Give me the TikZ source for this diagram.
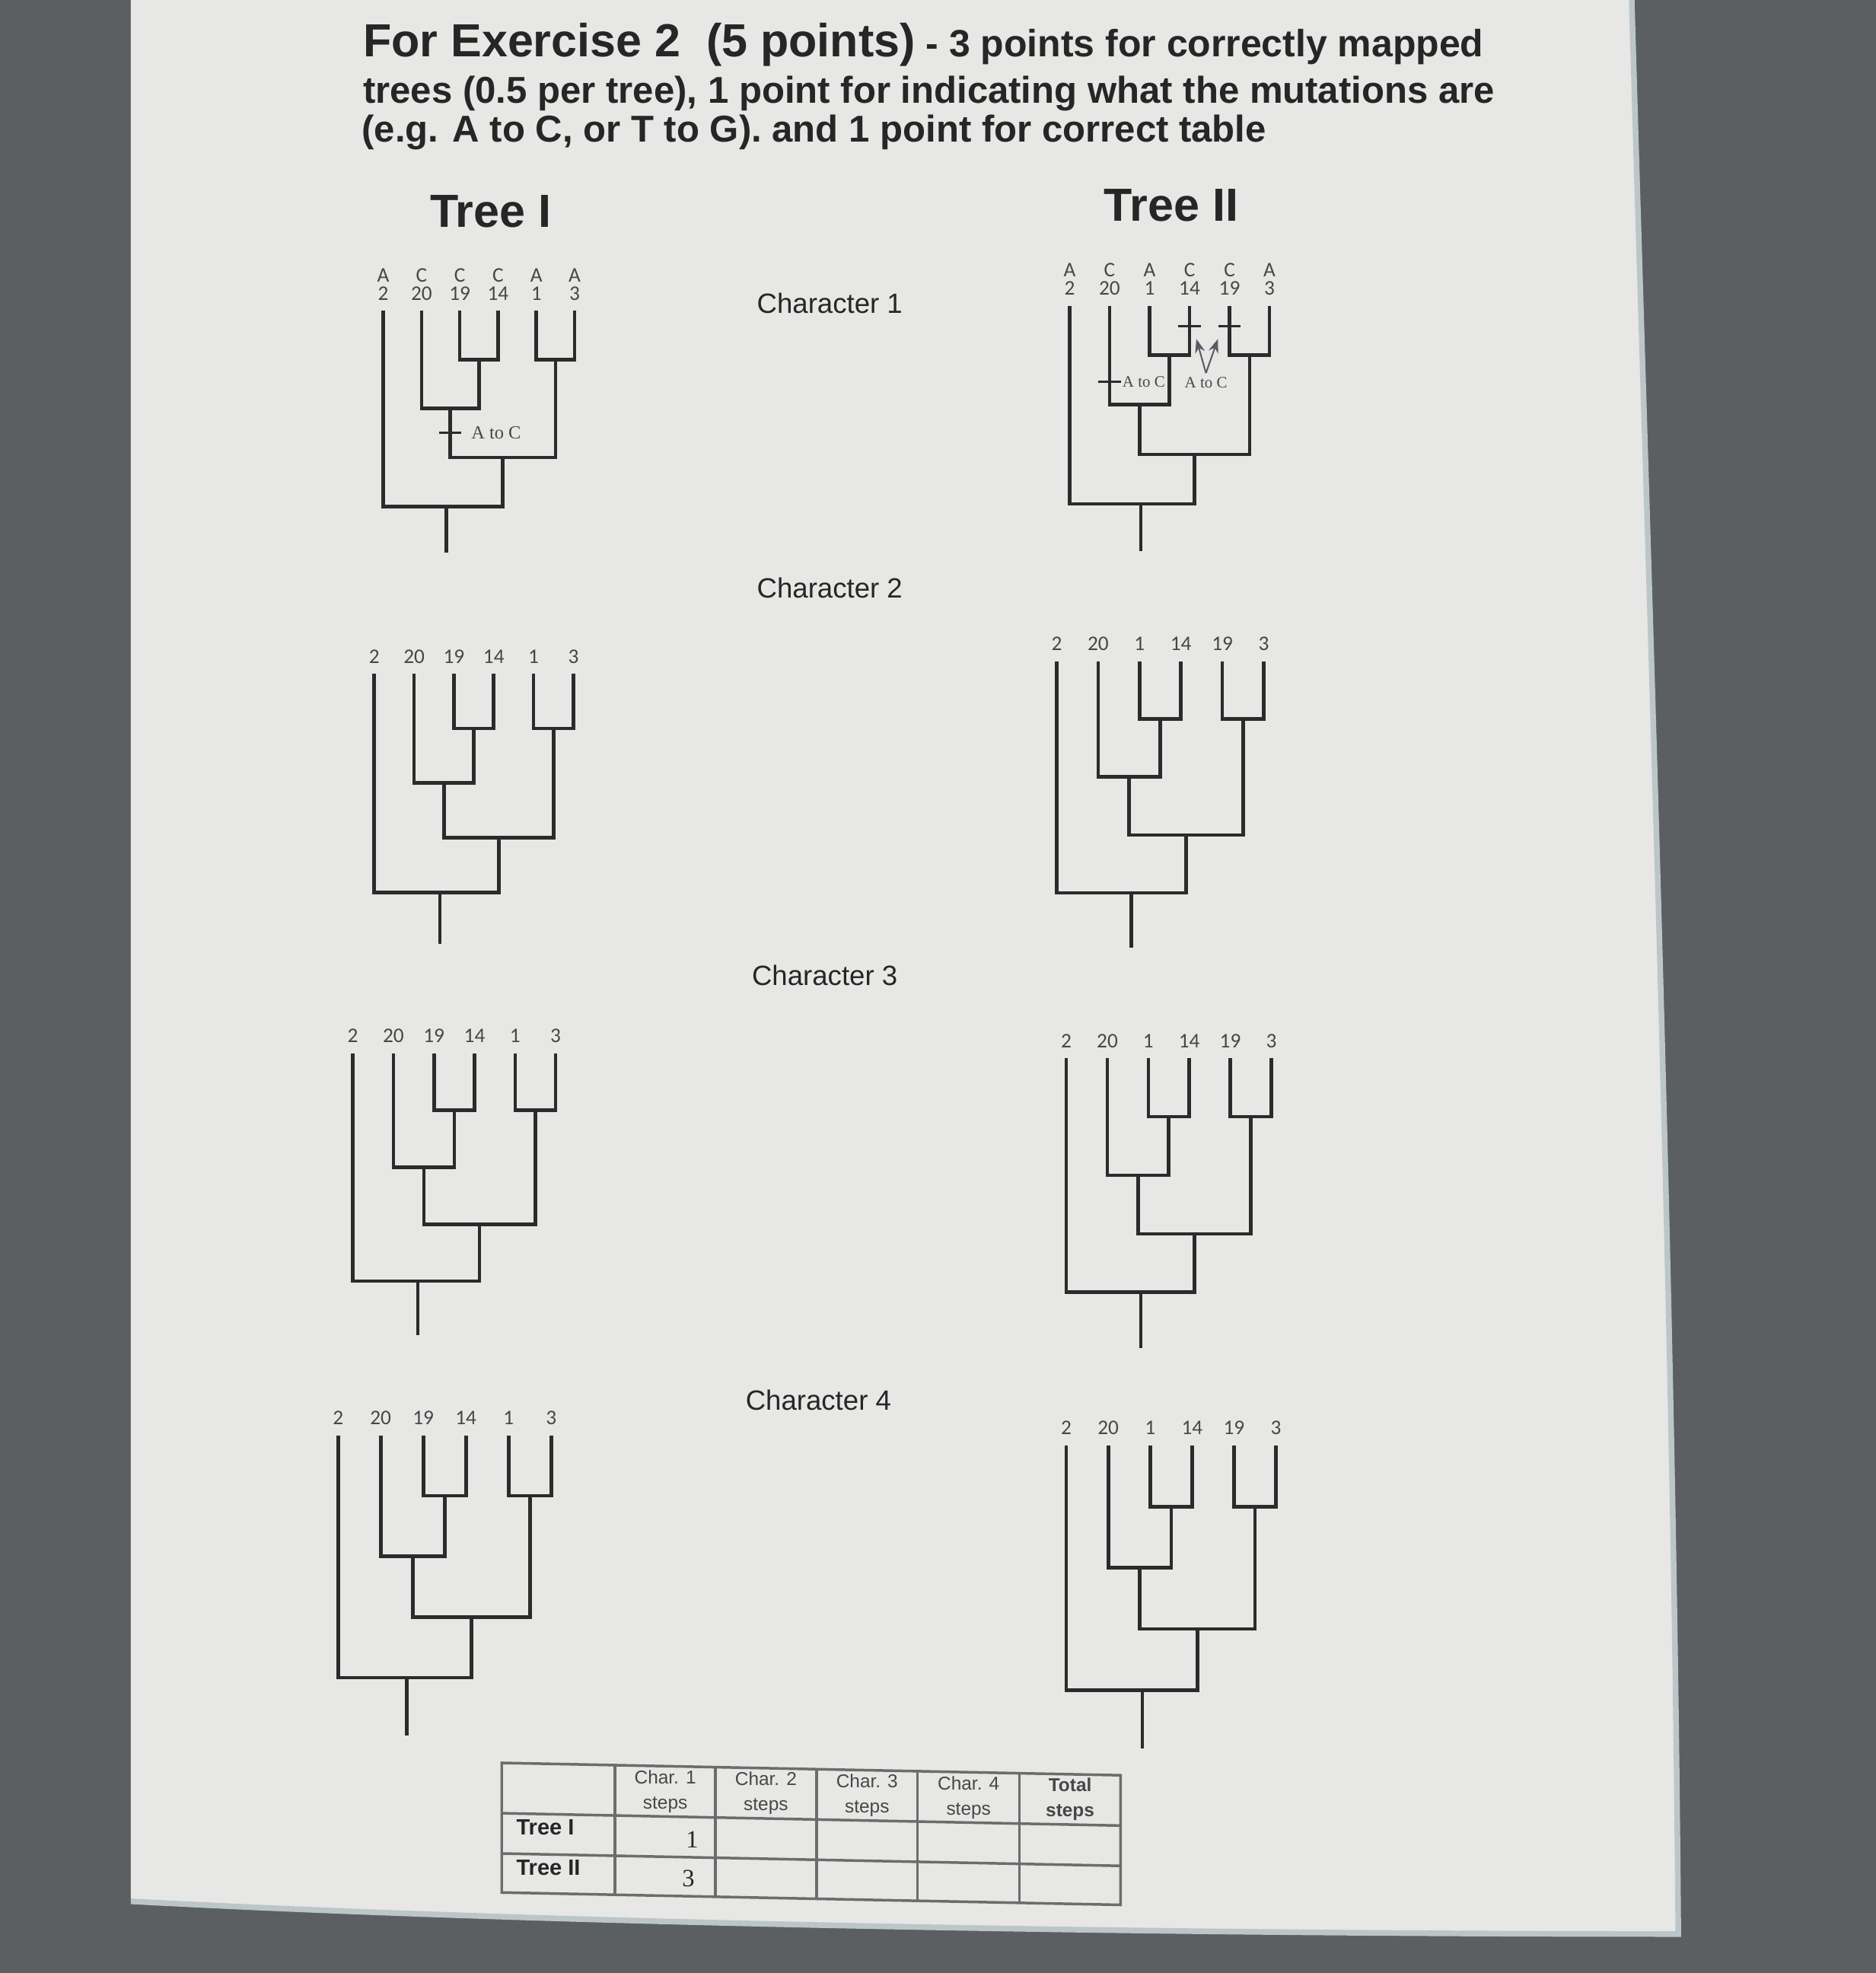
\documentclass[tikz,border=0pt]{standalone}
\usepackage{fontspec}
\setmainfont{Liberation Sans}
\newfontfamily\carlito{Carlito}
\newfontfamily\timesr{Liberation Serif}
\usetikzlibrary{arrows.meta}
\begin{document}
\begin{tikzpicture}[
    x=.1mm,y=-.1mm,
    branch/.style={draw=branchink,line width=.8pt},
    mutick/.style={draw=branchink,line width=.55pt},
    pointer/.style={draw=pointer,line width=.35pt,-{Stealth[length=1.1mm,width=.8mm]}},
    leaflab/.style={font=\carlito\fontsize{4.7}{5}\selectfont,text=labink,inner sep=0pt,anchor=base},
    mutlab/.style={font=\timesr\fontsize{4.2}{5}\selectfont,text=labink,inner sep=.3pt},
    charlab/.style={font=\fontsize{6.3}{7}\selectfont,text=ink,anchor=west,inner sep=0pt},
    treehead/.style={font=\bfseries\fontsize{10.5}{12}\selectfont,text=ink,inner sep=0pt},
    headline/.style={anchor=base west,inner sep=0pt,text=ink,font=\bfseries\fontsize{8.45}{10}\selectfont},
    grid/.style={draw=gridink,line width=.6pt},
    cell/.style={font=\fontsize{4.2}{5.7}\selectfont,text=labink,align=center,inner sep=0pt},
    rowlab/.style={font=\bfseries\fontsize{5}{6}\selectfont,text=ink,anchor=west,inner sep=0pt},
    tally/.style={font=\timesr\fontsize{5.6}{6}\selectfont,text=ink,anchor=east,inner sep=0pt},
    pics/clade/.style 2 args={code={
      \foreach \lab [count=\i from 0] in {#1} {
        \coordinate (-l\i) at (\i,0);
        \node[leaflab,yshift=.85mm] (-n\i) at (\i,0) {\lab};
      }
      \coordinate (-a) at (2.5,1);
      \coordinate (-b) at (4.5,1);
      \coordinate (-c) at (1.75,2);
      \coordinate (-d) at (3.125,3);
      \coordinate (-r) at (#2,4);
      \coordinate (-s) at (#2,4.95);
      \draw[branch] (-l2) |- (-a) -| (-l3);
      \draw[branch] (-l4) |- (-b) -| (-l5);
      \draw[branch] (-l1) |- (-c) -| (-a);
      \draw[branch] (-c) |- (-d) -| (-b);
      \draw[branch] (-l0) |- (-r) -| (-d);
      \draw[branch] (-r) -- (-s);
    }}
  ]
  \definecolor{desk}{HTML}{5C5F62}
  \definecolor{paper}{HTML}{E7E7E5}
  \definecolor{rimc}{HTML}{BCC6C9}
  \definecolor{ink}{HTML}{262626}
  \definecolor{branchink}{HTML}{2B2B2B}
  \definecolor{labink}{HTML}{474747}
  \definecolor{gridink}{HTML}{6C6C6C}
  \definecolor{pointer}{HTML}{5E5868}
  \useasboundingbox (0,0) rectangle (1491,1568);
  % photo: desk and sheet
  \fill[desk] (0,0) rectangle (1491,1568);
  \fill[paper] (104,0) -- (1297,0) .. controls (1312,520) and (1330,1020) .. (1334,1537)
    .. controls (900,1537) and (420,1528) .. (104,1511) -- cycle;
  \draw[rimc,line width=.45mm] (1297,0) .. controls (1312,520) and (1330,1020) .. (1334,1537)
    .. controls (900,1537) and (420,1528) .. (104,1511);

  % heading
  \node[headline,font=\bfseries\fontsize{8.6}{10}\selectfont] (head1) at (288,45)
    {{\fontsize{10.5}{12}\selectfont For Exercise 2\ \ (5 points)} - 3 points for correctly mapped};
  \node[headline] (head2) at (288,82)
    {trees (0.5 per tree), 1 point for indicating what the mutations are};
  \node[headline] (head3) at (287,113)
    {(e.g. A to C, or T to G). and 1 point for correct table};
  \node[treehead] (headI) at (390,168) {Tree I};
  \node[treehead] (headII) at (931,163) {Tree II};

  \node[charlab] (char1) at (601,241) {Character 1};
  \node[charlab] (char2) at (601,467) {Character 2};
  \node[charlab] (char3) at (597,775) {Character 3};
  \node[charlab] (char4) at (592,1113) {Character 4};

  % character 1
  \begin{scope}[shift={(304.6,247)},x=3.044mm,y=-3.885mm]
    \pic (t11) {clade={2,20,19,14,1,3}{1.65}};
    \foreach \s [count=\i from 0] in {A,C,C,C,A,A}
      \node[leaflab] (t11-s\i) at ([yshift=1.45mm]t11-n\i.base) {\s};
    \coordinate (t11-m) at (1.75,2.5);
    \draw[mutick] ([xshift=-.9mm]t11-m) -- ([xshift=.9mm]t11-m);
    \node[mutlab,anchor=west] (t11-ml) at ([xshift=1.5mm]t11-m) {A to C};
  \end{scope}
  \begin{scope}[shift={(850.2,243)},x=3.178mm,y=-3.935mm,
      mutlab/.append style={font=\timesr\fontsize{3.6}{4}\selectfont}]
    \pic (t21) {clade={2,20,1,14,19,3}{1.78}};
    \foreach \s [count=\i from 0] in {A,C,A,C,C,A}
      \node[leaflab] (t21-s\i) at ([yshift=1.45mm]t21-n\i.base) {\s};
    \coordinate (t21-m14) at (3,.41);
    \coordinate (t21-m19) at (4,.41);
    \coordinate (t21-m20) at (1,1.54);
    \foreach \m in {m14,m19,m20}
      \draw[mutick] ([xshift=-.9mm]t21-\m) -- ([xshift=.9mm]t21-\m);
    \node[mutlab,anchor=west] (t21-la) at ([xshift=.85mm]t21-m20) {A to C};
    \node[mutlab] (t21-lb) at (3.41,1.55) {A to C};
    \coordinate (t21-pa) at (3.17,.67);
    \coordinate (t21-pb) at (3.71,.67);
    \draw[pointer] ([yshift=.15mm]t21-lb.north) -- (t21-pa);
    \draw[pointer] ([yshift=.15mm]t21-lb.north) -- (t21-pb);
  \end{scope}

  % character 2
  \begin{scope}[shift={(297.5,535.5)},x=3.166mm,y=-4.34mm]
    \pic (t12) {clade={2,20,19,14,1,3}{1.65}};
  \end{scope}
  \begin{scope}[shift={(840,525.4)},x=3.29mm,y=-4.605mm]
    \pic (t22) {clade={2,20,1,14,19,3}{1.8}};
  \end{scope}

  % character 3
  \begin{scope}[shift={(280.4,837)},x=3.226mm,y=-4.53mm]
    \pic (t13) {clade={2,20,19,14,1,3}{1.6}};
  \end{scope}
  \begin{scope}[shift={(847.6,841)},x=3.258mm,y=-4.65mm]
    \pic (t23) {clade={2,20,1,14,19,3}{1.82}};
  \end{scope}

  % character 4
  \begin{scope}[shift={(268.7,1140.6)},x=3.388mm,y=-4.815mm]
    \pic (t14) {clade={2,20,19,14,1,3}{1.61}};
  \end{scope}
  \begin{scope}[shift={(847.6,1148.7)},x=3.332mm,y=-4.865mm]
    \pic (t24) {clade={2,20,1,14,19,3}{1.81}};
  \end{scope}

  % steps table
  \begin{scope}[shift={(398.8,1401)},yslant=-.02]
    \draw[grid] (0,0) rectangle (491.9,103);
    \foreach \cx in {90.1,169.9,250.2,330.6,411.6}
      \draw[grid] (\cx,0) -- (\cx,103);
    \foreach \ry in {40,72}
      \draw[grid] (0,\ry) -- (491.9,\ry);
    \node[cell] (h1) at (130,20) {Char. 1\\steps};
    \node[cell] (h2) at (210,20) {Char. 2\\steps};
    \node[cell] (h3) at (290.4,20) {Char. 3\\steps};
    \node[cell] (h4) at (371.1,20) {Char. 4\\steps};
    \node[cell,font=\bfseries\fontsize{4.2}{5.7}\selectfont] (h5) at (451.8,20) {Total\\steps};
    \node[rowlab] (rI) at (11,51) {Tree I};
    \node[rowlab] (rII) at (11,83) {Tree II};
    \node[tally] (v1) at (157,58) {1};
    \node[tally] (v2) at (154,89) {3};
  \end{scope}
\end{tikzpicture}
\end{document}
